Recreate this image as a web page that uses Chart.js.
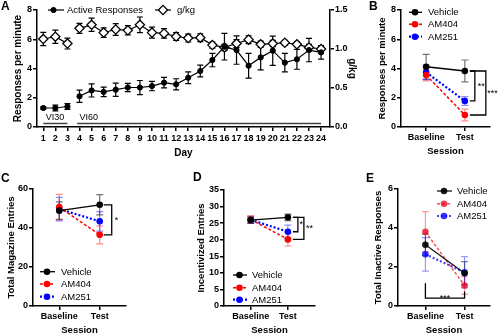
<!DOCTYPE html>
<html>
<head>
<meta charset="utf-8">
<script src="https://cdn.jsdelivr.net/npm/chart.js@4.4.1/dist/chart.umd.min.js"></script>
<style>
html,body{margin:0;padding:0;background:#fff;}
#wrap{position:relative;width:500px;height:336px;overflow:hidden;background:#fff;}
#wrap canvas{position:absolute;}
.plabel{position:absolute;font-family:"Liberation Sans",Arial,sans-serif;font-weight:bold;font-size:12px;line-height:12px;color:#000;}
</style>
</head>
<body>
<div id="wrap">
  <canvas id="chartA" width="360" height="160" style="left:0px;top:0px;"></canvas>
  <canvas id="chartB" width="140" height="160" style="left:360px;top:0px;"></canvas>
  <canvas id="chartC" width="165" height="176" style="left:0px;top:160px;"></canvas>
  <canvas id="chartD" width="165" height="176" style="left:165px;top:160px;"></canvas>
  <canvas id="chartE" width="170" height="176" style="left:330px;top:160px;"></canvas>
  <div class="plabel" style="left:1px;top:0px;">A</div>
  <div class="plabel" style="left:369px;top:0px;">B</div>
  <div class="plabel" style="left:1px;top:172px;">C</div>
  <div class="plabel" style="left:193px;top:171px;">D</div>
  <div class="plabel" style="left:366px;top:172px;">E</div>
</div>
<script>
// ================= DATA =================
// Panel A
const days = [1,2,3,4,5,6,7,8,9,10,11,12,13,14,15,16,17,18,19,20,21,22,23,24];
const activeResponses    = [1.30,1.30,1.40,2.10,2.50,2.40,2.55,2.70,2.70,2.80,3.03,2.92,3.37,3.83,4.58,5.49,5.26,4.19,4.76,5.22,4.40,4.63,5.26,5.10];
const activeResponsesSEM = [0.08,0.20,0.20,0.42,0.45,0.32,0.45,0.28,0.48,0.32,0.36,0.38,0.40,0.40,0.46,0.91,0.97,0.85,0.85,1.00,0.63,0.68,0.80,0.46];
const gPerKg    = [1.128,1.158,1.070,1.265,1.310,1.210,1.250,1.240,1.310,1.210,1.200,1.160,1.140,1.145,1.050,1.020,1.070,1.120,1.060,1.070,1.080,1.060,1.020,1.000];
const gPerKgSEM = [0.085,0.085,0.070,0.064,0.085,0.060,0.075,0.060,0.100,0.070,0.060,0.050,0.050,0.050,0.040,0.040,0.050,0.050,0.040,0.040,0.030,0.030,0.040,0.030];
const phases     = ['VI30','VI60'];
const phaseStart = [1, 3.8];
const phaseEnd   = [3, 24];
const ticksA_left  = [0,2,4,6,8];
const ticksA_right = [0,0.5,1.0,1.5];

// Panels B-E
const sessions   = ['Baseline','Test'];
const sessionPos = [0,1];
const groups     = ['Vehicle','AM404','AM251'];

// B: Responses per minute
const rateVehicle = [4.12, 3.83], rateVehicleSEM = [0.85, 0.75];
const rateAM404   = [3.55, 0.82], rateAM404SEM   = [0.40, 0.40];
const rateAM251   = [3.74, 1.78], rateAM251SEM   = [0.50, 0.30];
const ticksB = [0,2,4,6,8];

// C: Total magazine entries
const magVehicle = [48.9, 51.9], magVehicleSEM = [4.5, 5.2];
const magAM404   = [50.7, 36.5], magAM404SEM   = [6.5, 4.6];
const magAM251   = [49.7, 43.4], magAM251SEM   = [6.0, 5.0];
const ticksC = [0,20,40,60];

// D: Incentivized entries
const incVehicle = [25.9, 26.75], incVehicleSEM = [0.9, 1.0];
const incAM404   = [26.1, 20.1],  incAM404SEM   = [1.2, 2.0];
const incAM251   = [26.0, 22.4],  incAM251SEM   = [1.0, 2.0];
const ticksD = [0,5,10,15,20,25,30,35];

// E: Total inactive responses
const inaVehicle = [3.14, 1.68], inaVehicleSEM = [0.55, 0.60];
const inaAM404   = [3.81, 1.05], inaAM404SEM   = [1.03, 0.45];
const inaAM251   = [2.65, 1.73], inaAM251SEM   = [0.86, 0.80];
const ticksE = [0,2,4,6];

// ================= STYLE / HELPERS =================
const FONT = '"Liberation Sans", Arial, sans-serif';
Chart.defaults.font.family = FONT;
Chart.defaults.color = '#000';
Chart.defaults.animation = false;

const tickFont  = {size: 9, weight: 'bold', family: FONT};
const titleFontA = {size: 10, weight: 'bold', family: FONT};
const titleFont = {size: 9.5, weight: 'bold', family: FONT};

const groupStyle = [
  {line:'#000000', point:'#000000', err:'rgba(0,0,0,0.55)', dash:[], width:1.3},
  {line:'#ff0000', point:'#ff0000', err:'rgba(255,0,0,0.45)', dash:[3,2], width:1.5},
  {line:'#0000ff', point:'#0000ff', err:'rgba(0,0,255,0.45)', dash:[2,2], width:2.2}
];
const groupStyleE = [
  {line:'rgba(0,0,0,0.9)', point:'rgba(0,0,0,0.9)', err:'rgba(0,0,0,0.5)', dash:[], width:1.3},
  {line:'rgba(255,0,0,0.7)', point:'rgba(230,0,30,0.75)', err:'rgba(255,0,0,0.4)', dash:[3,2], width:1.5},
  {line:'rgba(0,0,255,0.75)', point:'rgba(0,0,255,0.8)', err:'rgba(0,0,255,0.4)', dash:[2,2], width:2.2}
];

function axisBase() {
  return {
    grid: {display: true, drawOnChartArea: false, drawTicks: true, tickLength: 4, color: '#000', lineWidth: 1.5},
    border: {display: true, color: '#000', width: 1.5}
  };
}

function errorBarsPlugin(cap, lw) {
  return {
    id: 'errorBars',
    beforeDatasetsDraw(chart) {
      const ctx = chart.ctx;
      chart.data.datasets.forEach((ds, di) => {
        if (!ds.errorBars) return;
        const meta = chart.getDatasetMeta(di);
        const ys = chart.scales[meta.yAxisID];
        ctx.save();
        ctx.strokeStyle = ds.errorColor || ds.borderColor;
        ctx.lineWidth = lw;
        ctx.setLineDash([]);
        meta.data.forEach((pt, i) => {
          const v = ds.data[i].y, e = ds.errorBars[i];
          if (v == null || e == null) return;
          const x = pt.x;
          const yt = ys.getPixelForValue(v + e), yb = ys.getPixelForValue(v - e);
          ctx.beginPath();
          ctx.moveTo(x, yt); ctx.lineTo(x, yb);
          ctx.moveTo(x - cap / 2, yt); ctx.lineTo(x + cap / 2, yt);
          ctx.moveTo(x - cap / 2, yb); ctx.lineTo(x + cap / 2, yb);
          ctx.stroke();
        });
        ctx.restore();
      });
    }
  };
}

function legendPlugin(items, fontSize) {
  return {
    id: 'panelLegend',
    afterDraw(chart) {
      const ctx = chart.ctx;
      items.forEach(it => {
        const ds = chart.data.datasets[it.ds];
        ctx.save();
        ctx.strokeStyle = ds.borderColor;
        ctx.lineWidth = ds.borderWidth;
        ctx.setLineDash(ds.borderDash || []);
        ctx.beginPath(); ctx.moveTo(it.x0, it.y); ctx.lineTo(it.x1, it.y); ctx.stroke();
        ctx.setLineDash([]);
        ctx.fillStyle = ds.pointBackgroundColor;
        ctx.strokeStyle = ds.pointBorderColor;
        ctx.lineWidth = ds.pointBorderWidth || 0;
        Chart.helpers.drawPoint(ctx, {pointStyle: ds.pointStyle, radius: ds.pointRadius, rotation: 0, borderWidth: ds.pointBorderWidth || 0}, it.mx, it.y);
        ctx.fillStyle = '#000';
        ctx.font = fontSize + 'px ' + FONT;
        ctx.textBaseline = 'middle';
        ctx.textAlign = 'left';
        ctx.fillText(ds.label, it.tx, it.y + 0.5);
        ctx.restore();
      });
    }
  };
}

function bracketPlugin(items) {
  return {
    id: 'brackets',
    afterDraw(chart) {
      const ctx = chart.ctx, xs = chart.scales.x, ys = chart.scales.y;
      ctx.save();
      ctx.strokeStyle = '#000'; ctx.lineWidth = 1.3; ctx.setLineDash([]);
      ctx.fillStyle = '#000'; ctx.font = '9px ' + FONT; ctx.textBaseline = 'alphabetic'; ctx.textAlign = 'left';
      items.forEach(b => {
        if (b.type === 'u') {
          const xa = xs.getPixelForValue(b.xa), xb = xs.getPixelForValue(b.xb);
          const yl = ys.getPixelForValue(b.low), ya = ys.getPixelForValue(b.topA), yb = ys.getPixelForValue(b.topB);
          ctx.beginPath(); ctx.moveTo(xa, ya); ctx.lineTo(xa, yl); ctx.lineTo(xb, yl); ctx.lineTo(xb, yb); ctx.stroke();
          ctx.textAlign = 'center';
          ctx.fillText(b.label, (xa + xb) / 2, yl - 2.5 + 0.58 * 9);
          ctx.textAlign = 'left';
        } else {
          const px = xs.getPixelForValue(b.x);
          const bx = px + b.dx;
          const ya = ys.getPixelForValue(b.a), yb = ys.getPixelForValue(b.b);
          ctx.beginPath(); ctx.moveTo(px + b.lead, ya); ctx.lineTo(bx, ya); ctx.lineTo(bx, yb); ctx.lineTo(px + b.lead, yb); ctx.stroke();
          ctx.fillText(b.label, bx + b.ldx, (ya + yb) / 2 + 0.58 * 9 - 2.5);
        }
      });
      ctx.restore();
    }
  };
}

const phasePlugin = {
  id: 'phases',
  afterDatasetsDraw(chart) {
    const xs = chart.scales.x, ys = chart.scales.y, ctx = chart.ctx;
    ctx.save();
    ctx.strokeStyle = '#444'; ctx.lineWidth = 1.5; ctx.fillStyle = '#000';
    ctx.font = '9px ' + FONT; ctx.textBaseline = 'middle'; ctx.textAlign = 'left';
    phases.forEach((p, i) => {
      const x0 = xs.getPixelForValue(phaseStart[i]), x1 = xs.getPixelForValue(phaseEnd[i]);
      const yl = ys.getPixelForValue(0.24), yt = ys.getPixelForValue(0.62);
      ctx.beginPath(); ctx.moveTo(x0, yl); ctx.lineTo(x1, yl); ctx.stroke();
      ctx.fillText(p, x0 + 2.5, yt);
    });
    ctx.restore();
  }
};

const phaseGap = c => (phaseEnd.includes(c.p0.parsed.x) ? 'rgba(0,0,0,0)' : undefined);

// ================= PANEL A =================
new Chart(document.getElementById('chartA'), {
  type: 'line',
  data: {
    datasets: [
      {
        label: 'Active Responses', yAxisID: 'y',
        data: days.map((d, i) => ({x: d, y: activeResponses[i]})),
        errorBars: activeResponsesSEM, errorColor: '#000',
        borderColor: '#000', borderWidth: 1.2, borderDash: [],
        pointStyle: 'circle', pointRadius: 2.6, pointBackgroundColor: '#000', pointBorderColor: '#000', pointBorderWidth: 1,
        segment: {borderColor: phaseGap}
      },
      {
        label: 'g/kg', yAxisID: 'y1',
        data: days.map((d, i) => ({x: d, y: gPerKg[i]})),
        errorBars: gPerKgSEM, errorColor: '#000',
        borderColor: '#000', borderWidth: 1.2, borderDash: [],
        pointStyle: 'rectRot', pointRadius: 4.6, pointBackgroundColor: '#fff', pointBorderColor: '#000', pointBorderWidth: 1.3,
        segment: {borderColor: phaseGap}
      }
    ]
  },
  options: {
    responsive: false, animation: false, events: [],
    layout: {padding: {left: 0, right: 0, top: 10, bottom: 0}},
    plugins: {legend: {display: false}, tooltip: {enabled: false}},
    scales: {
      x: Object.assign(axisBase(), {
        type: 'linear', min: 0.48, max: 24.74,
        afterBuildTicks: s => { s.ticks = days.map(v => ({value: v})); },
        afterFit: s => { s.height = 33; },
        ticks: {font: tickFont, color: '#000', padding: 2, autoSkip: false, maxRotation: 0, minRotation: 0, callback: v => String(v)},
        title: {display: true, text: 'Day', font: titleFontA, color: '#000', padding: {top: 0, bottom: 1}}
      }),
      y: Object.assign(axisBase(), {
        type: 'linear', position: 'left', min: 0, max: 8,
        afterBuildTicks: s => { s.ticks = ticksA_left.map(v => ({value: v})); },
        afterFit: s => { s.width = 37; },
        ticks: {font: tickFont, color: '#000', padding: 1},
        title: {display: true, text: 'Responses per minute', font: titleFontA, color: '#000', padding: {top: 12, bottom: 0}}
      }),
      y1: Object.assign(axisBase(), {
        type: 'linear', position: 'right', min: 0, max: 1.5,
        afterBuildTicks: s => { s.ticks = ticksA_right.map(v => ({value: v})); },
        afterFit: s => { s.width = 30; },
        ticks: {font: tickFont, color: '#000', padding: 1, callback: v => Number(v).toFixed(1)},
        title: {display: true, text: 'g/kg', font: titleFontA, color: '#000', padding: {top: 2, bottom: 0}}
      })
    }
  },
  plugins: [
    errorBarsPlugin(6, 1.2),
    phasePlugin,
    legendPlugin([
      {ds: 0, x0: 48, x1: 64, mx: 53.5, tx: 67, y: 10},
      {ds: 1, x0: 155, x1: 171, mx: 163, tx: 177, y: 10}
    ], 9.5)
  ]
});

// ================= PANELS B-E =================
function sessionChart(id, p) {
  const st = p.style || groupStyle;
  const datasets = groups.map((g, k) => ({
    label: g,
    data: sessionPos.map((x, i) => ({x: x, y: p.values[k][i]})),
    errorBars: p.sems[k], errorColor: st[k].err,
    borderColor: st[k].line, borderWidth: st[k].width, borderDash: st[k].dash,
    pointStyle: 'circle', pointRadius: 3.3,
    pointBackgroundColor: st[k].point, pointBorderColor: st[k].point, pointBorderWidth: 0
  }));
  return new Chart(document.getElementById(id), {
    type: 'line',
    data: {datasets: datasets},
    options: {
      responsive: false, animation: false, events: [],
      layout: {padding: p.padding},
      plugins: {legend: {display: false}, tooltip: {enabled: false}},
      scales: {
        x: Object.assign(axisBase(), {
          type: 'linear', min: p.xMin, max: p.xMax,
          afterBuildTicks: s => { s.ticks = sessionPos.map(v => ({value: v})); },
          afterFit: s => { s.height = p.xHeight; },
          ticks: {font: tickFont, color: '#000', padding: p.xTickPad, autoSkip: false, maxRotation: 0, minRotation: 0,
                  callback: v => (sessions[v] !== undefined ? sessions[v] : '')},
          title: {display: true, text: 'Session', font: titleFont, color: '#000', padding: {top: 0, bottom: p.xTitlePad}}
        }),
        y: Object.assign(axisBase(), {
          type: 'linear', position: 'left', min: p.ticks[0], max: p.ticks[p.ticks.length - 1],
          afterBuildTicks: s => { s.ticks = p.ticks.map(v => ({value: v})); },
          afterFit: s => { s.width = p.yWidth; },
          ticks: {font: tickFont, color: '#000', padding: 1},
          title: {display: true, text: p.yTitle, font: titleFont, color: '#000', padding: {top: p.yTitlePad, bottom: 0}}
        })
      }
    },
    plugins: [errorBarsPlugin(7, 1.2), bracketPlugin(p.brackets), legendPlugin(p.legend, 9.5)]
  });
}

sessionChart('chartB', {
  values: [rateVehicle, rateAM404, rateAM251],
  sems: [rateVehicleSEM, rateAM404SEM, rateAM251SEM],
  ticks: ticksB, yTitle: 'Responses per minute',
  yWidth: 41, yTitlePad: 17, xMin: -0.65, xMax: 1.65, xHeight: 33, xTickPad: 1, xTitlePad: 3,
  padding: {left: 0, right: 10, top: 10, bottom: 0},
  legend: [
    {ds: 0, x0: 49, x1: 62, mx: 55, tx: 68, y: 12.3},
    {ds: 1, x0: 49, x1: 62, mx: 55, tx: 68, y: 24.3},
    {ds: 2, x0: 49, x1: 62, mx: 55, tx: 68, y: 36.7}
  ],
  brackets: [
    {x: sessionPos[1], a: rateVehicle[1], b: rateAM251[1], dx: 10, lead: 5, label: '**', ldx: 3},
    {x: sessionPos[1], a: rateVehicle[1], b: rateAM404[1], dx: 21, lead: 5, label: '***', ldx: 1.5}
  ]
});

sessionChart('chartC', {
  values: [magVehicle, magAM404, magAM251],
  sems: [magVehicleSEM, magAM404SEM, magAM251SEM],
  ticks: ticksC, yTitle: 'Total Magazine Entries',
  yWidth: 33, yTitlePad: 6, xMin: -0.65, xMax: 1.65, xHeight: 30, xTickPad: 1, xTitlePad: 0,
  padding: {left: 0, right: 39, top: 29, bottom: 0},
  legend: [
    {ds: 0, x0: 40, x1: 55, mx: 47, tx: 61, y: 111.7},
    {ds: 1, x0: 40, x1: 55, mx: 47, tx: 61, y: 124},
    {ds: 2, x0: 40, x1: 55, mx: 47, tx: 61, y: 136.7}
  ],
  brackets: [
    {x: sessionPos[1], a: magVehicle[1], b: magAM404[1], dx: 12, lead: 4, label: '*', ldx: 3}
  ]
});

sessionChart('chartD', {
  values: [incVehicle, incAM404, incAM251],
  sems: [incVehicleSEM, incAM404SEM, incAM251SEM],
  ticks: ticksD, yTitle: 'Incentivized Entries',
  yWidth: 59, yTitlePad: 31, xMin: -0.72, xMax: 1.73, xHeight: 30, xTickPad: 1, xTitlePad: 0,
  padding: {left: 0, right: 15, top: 30, bottom: 0},
  legend: [
    {ds: 0, x0: 68, x1: 82, mx: 74.5, tx: 87, y: 115},
    {ds: 1, x0: 68, x1: 82, mx: 74.5, tx: 87, y: 127.7},
    {ds: 2, x0: 68, x1: 82, mx: 74.5, tx: 87, y: 139.7}
  ],
  brackets: [
    {x: sessionPos[1], a: incVehicle[1], b: incAM251[1], dx: 10, lead: 5, label: '*', ldx: 1.5},
    {x: sessionPos[1], a: incVehicle[1], b: incAM404[1], dx: 16, lead: 5, label: '**', ldx: 2}
  ]
});

sessionChart('chartE', {
  values: [inaVehicle, inaAM404, inaAM251],
  sems: [inaVehicleSEM, inaAM404SEM, inaAM251SEM],
  style: groupStyleE,
  ticks: ticksE, yTitle: 'Total Inactive Responses',
  yWidth: 68, yTitlePad: 42.5, xMin: -0.7, xMax: 1.65, xHeight: 30, xTickPad: 1, xTitlePad: 0,
  padding: {left: 0, right: 10, top: 29, bottom: 0},
  legend: [
    {ds: 0, x0: 107, x1: 122, mx: 114, tx: 127, y: 31},
    {ds: 1, x0: 107, x1: 122, mx: 114, tx: 127, y: 43.7},
    {ds: 2, x0: 107, x1: 122, mx: 114, tx: 127, y: 56}
  ],
  brackets: [
    {type: 'u', xa: sessionPos[0], xb: sessionPos[1], low: 0.4, topA: 1.17, topB: 0.75, label: '***'}
  ]
});
</script>
</body>
</html>
